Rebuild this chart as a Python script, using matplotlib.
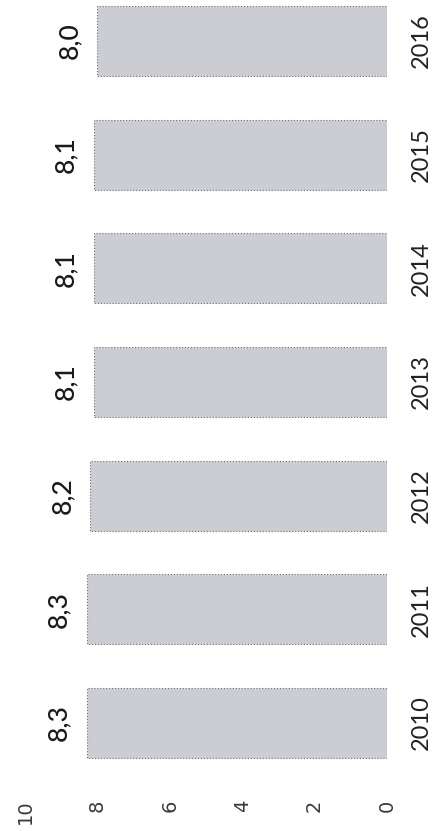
import matplotlib
matplotlib.use("Agg")
import matplotlib.pyplot as plt
import numpy as np

years = ["2010", "2011", "2012", "2013", "2014", "2015", "2016"]
values = [8.3, 8.3, 8.2, 8.1, 8.1, 8.1, 8.0]
value_labels = ["8,3", "8,3", "8,2", "8,1", "8,1", "8,1", "8,0"]
axis_ticks = [0, 2, 4, 6, 8, 10]

W, H = 439, 831
fig = plt.figure(figsize=(W / 100, H / 100), dpi=100)
fig.patch.set_facecolor("white")

left_px, right_px = 25, 387
bottom_px, top_px = 790, 0
ax = fig.add_axes([left_px / W, 1 - bottom_px / H,
                   (right_px - left_px) / W, (bottom_px - top_px) / H])

pos = np.arange(len(years))
ax.barh(pos, values, height=0.616, color="#cbcdd2",
        edgecolor="#6e6e6e", linestyle=":", linewidth=0.8)

ax.set_xlim(10, 0)
ax.set_ylim(-0.589, 6.36)

for p, v, lab in zip(pos, values, value_labels):
    ax.annotate(lab, xy=(v, p), xytext=(-20, 0), textcoords="offset points",
                rotation=90, ha="center", va="center",
                fontsize=19, family="Lato", weight="medium", color="#1a1a1a")

ax.set_xticks(axis_ticks)
ax.set_xticklabels([str(t) for t in axis_ticks], rotation=90,
                   fontsize=14, family="DejaVu Sans", color="#3a3a3a")
ax.tick_params(axis="x", length=0, pad=7)

ax.yaxis.tick_right()
ax.set_yticks(pos)
ax.set_yticklabels(years, rotation=90, va="center", fontsize=17,
                   family="Lato", color="#222222")
ax.tick_params(axis="y", length=0, pad=17)

for s in ax.spines.values():
    s.set_visible(False)

fig.savefig("out.png", dpi=100, facecolor="white")
